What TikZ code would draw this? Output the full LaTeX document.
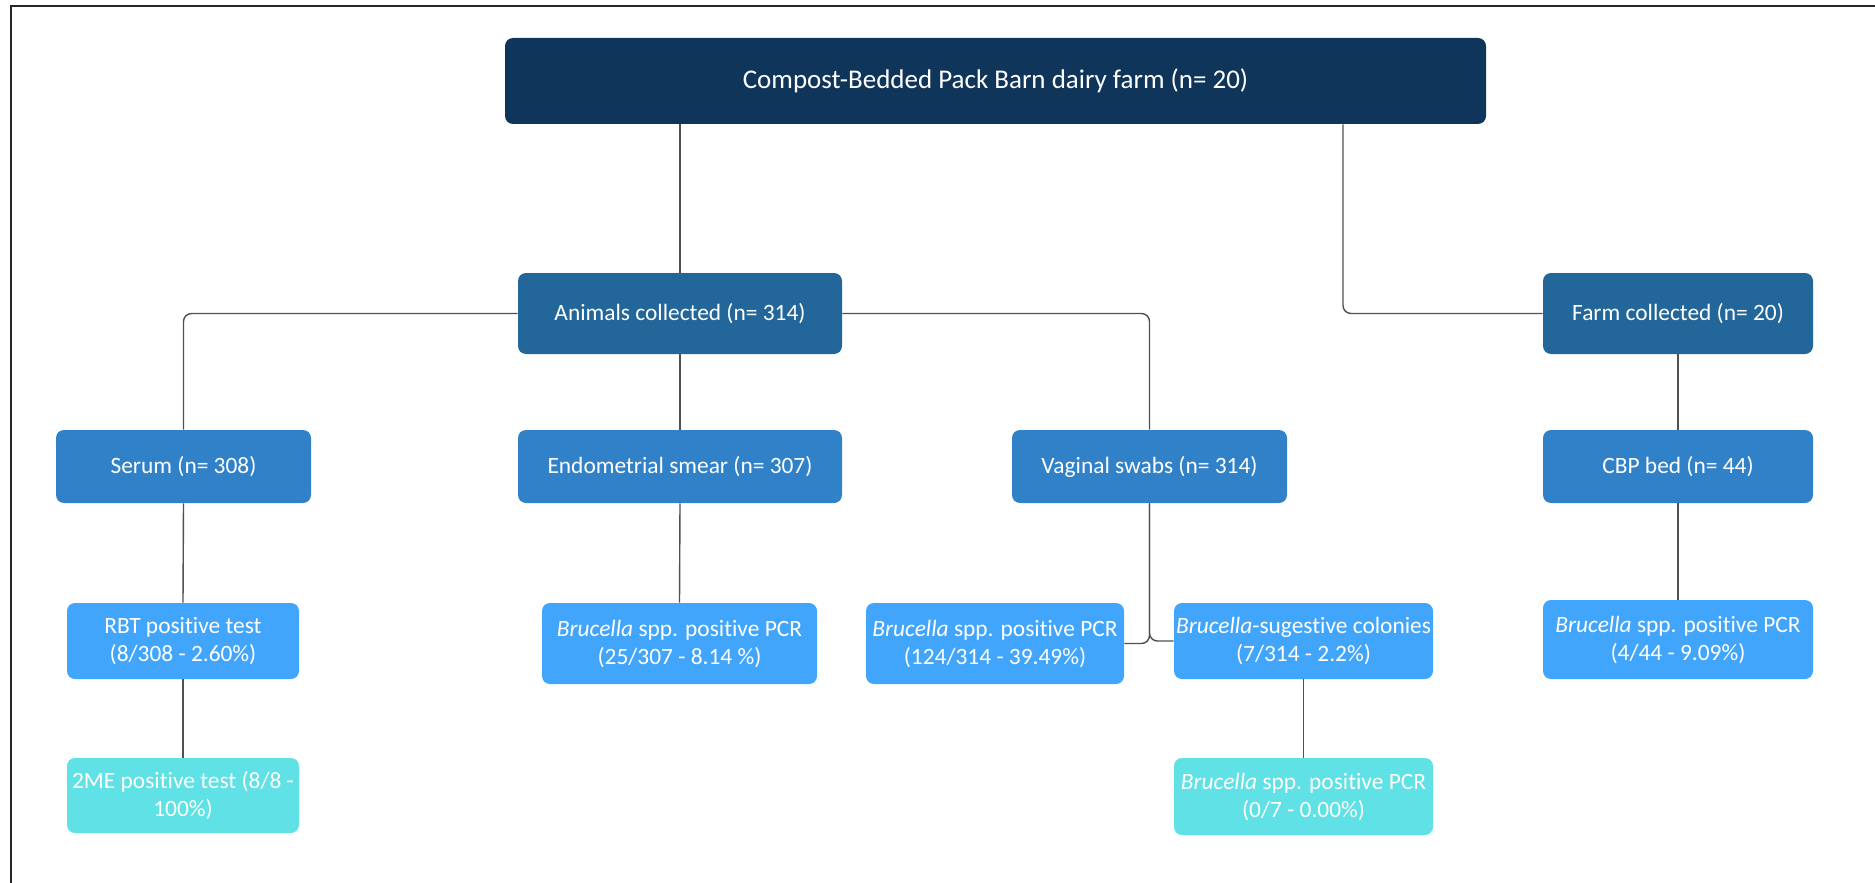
\documentclass[tikz,border=0pt]{standalone}
\usepackage{fontspec}
\setmainfont{Carlito}[Ligatures={NoCommon}]
\definecolor{cnavy}{HTML}{10355A}
\definecolor{cmid}{HTML}{236699}
\definecolor{cblue}{HTML}{3181C9}
\definecolor{clight}{HTML}{42A5FC}
\definecolor{ccyan}{HTML}{5FE1E5}
\definecolor{cline}{HTML}{505050}
\begin{document}
\begin{tikzpicture}[x=0.5pt,y=-0.5pt,
  box/.style={rounded corners=4pt,text=white,align=center,inner sep=0pt,font=\fontsize{11.7}{14}\selectfont},
  conn/.style={draw=cline,line width=0.7pt,rounded corners=4pt}]
\useasboundingbox (0,0) rectangle (1875,883);
\draw[line width=1pt,black!85] (11,883) -- (11,6) -- (1875,6);
% nodes
\node[box,fill=cnavy,minimum width=490.5pt,minimum height=43pt,font=\fontsize{13.5}{16}\selectfont] (top) at (995.5,81) {Compost-Bedded Pack Barn dairy farm (n= 20)};
\node[box,fill=cmid,minimum width=162pt,minimum height=40.5pt] (ani) at (680,313.5) {Animals collected (n= 314)};
\node[box,fill=cmid,minimum width=135pt,minimum height=40.5pt] (farm) at (1678,313.5) {Farm collected (n= 20)};
\node[box,fill=cblue,minimum width=127.5pt,minimum height=36.5pt] (ser) at (183.5,466.5) {Serum (n= 308)};
\node[box,fill=cblue,minimum width=162pt,minimum height=36.5pt] (endo) at (680,466.5) {Endometrial smear (n= 307)};
\node[box,fill=cblue,minimum width=137.5pt,minimum height=36.5pt] (vag) at (1149.5,466.5) {Vaginal swabs (n= 314)};
\node[box,fill=cblue,minimum width=135pt,minimum height=36.5pt] (cbp) at (1678,466.5) {CBP bed (n= 44)};
\node[box,fill=clight,minimum width=116pt,minimum height=38pt] (rbt) at (183,641) {RBT positive test\\(8/308 - 2.60\%)};
\node[box,fill=clight,minimum width=137.5pt,minimum height=40.5pt] (pcre) at (679.5,643.5) {\textit{Brucella} spp. positive PCR\\(25/307 - 8.14 \%)};
\node[box,fill=clight,minimum width=129pt,minimum height=40.5pt] (pcrv) at (995,643.5) {\textit{Brucella} spp. positive PCR\\(124/314 - 39.49\%)};
\node[box,fill=clight,minimum width=129.5pt,minimum height=38pt] (sug) at (1303.5,641) {\textit{Brucella}-sugestive colonies\\(7/314 - 2.2\%)};
\node[box,fill=clight,minimum width=135pt,minimum height=39.5pt] (pcrc) at (1678,639.5) {\textit{Brucella} spp. positive PCR\\(4/44 - 9.09\%)};
\node[box,fill=ccyan,minimum width=116pt,minimum height=37.5pt] (me) at (183,795.5) {2ME positive test (8/8 -\\100\%)};
\node[box,fill=ccyan,minimum width=129.5pt,minimum height=38.5pt] (pcrs) at (1303.5,796.5) {\textit{Brucella} spp. positive PCR\\(0/7 - 0.00\%)};
\coordinate (fx) at (1343,0);
% connectors
\draw[conn] (top.south -| ani.north) -- (ani.north);
\draw[conn] (top.south -| fx) |- (farm.west);
\draw[conn] (ani.west) -| (ser.north);
\draw[conn] (ani.south) -- (endo.north);
\draw[conn] (ani.east) -| (vag.north);
\draw[conn] (farm.south) -- (cbp.north);
\draw[conn] (ser.south) -- (rbt.north);
\draw[conn] (rbt.south) -- (me.north);
\draw[conn] (endo.south) -- (pcre.north);
\draw[conn] (vag.south) |- (pcrv.east);
\draw[conn] (vag.south) |- (sug.west);
\draw[conn] (sug.south) -- (pcrs.north);
\draw[conn] (cbp.south) -- (pcrc.north);
\end{tikzpicture}
\end{document}
